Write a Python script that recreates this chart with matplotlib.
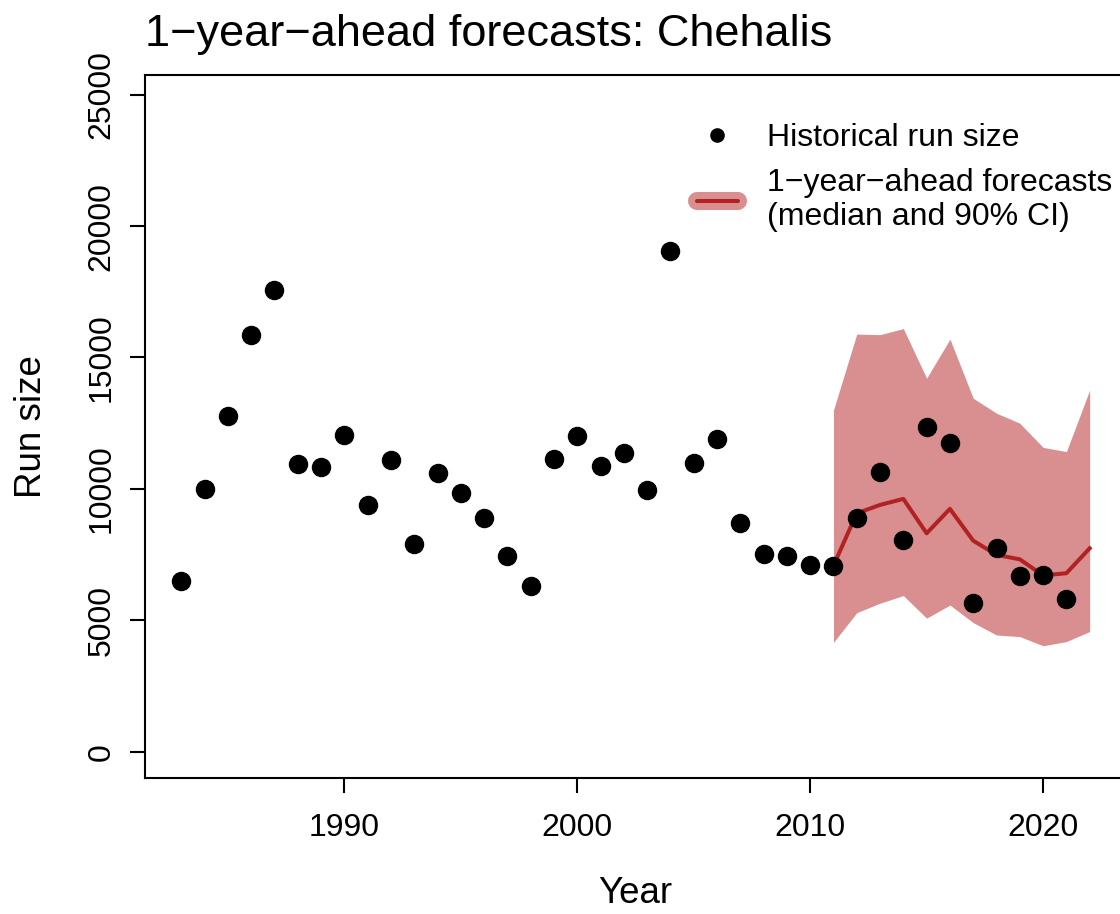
#!/usr/bin/env python3
"""1-year-ahead forecasts for the Chehalis run, with the historical run sizes."""
import matplotlib
matplotlib.use("Agg")
import matplotlib.pyplot as plt
from matplotlib.lines import Line2D

plt.rcParams["font.family"] = ["Liberation Sans", "DejaVu Sans"]

# historical run size, 1983-2021
years = list(range(1983, 2022))
run_size = [6500, 10000, 12770, 15850, 17570, 10930, 10820, 12050, 9390, 11100,
            7900, 10590, 9860, 8900, 7460, 6320, 11140, 12010, 10880, 11380,
            9960, 19050, 11000, 11890, 8710, 7520, 7450, 7090, 7080, 8900,
            10630, 8060, 12370, 11740, 5650, 7760, 6690, 6710, 5810]

# 1-year-ahead forecasts, 2011-2022
fc_years = list(range(2011, 2023))
fc_median = [7080, 9070, 9390, 9620, 8310, 9240, 8030, 7490, 7320, 6710, 6790, 7740]
fc_lower = [4160, 5290, 5650, 5940, 5080, 5580, 4910, 4440, 4380, 4030, 4190, 4570]
fc_upper = [13000, 15890, 15870, 16100, 14210, 15700, 13450, 12880, 12500, 11580, 11420, 13760]

FILL = "#D98F8F"
LINE = "#B22222"

W, H = 1120, 914
fig = plt.figure(figsize=(W / 100, H / 100), dpi=100)
ax = fig.add_axes([145 / W, 1 - 777.7 / H, 981 / W, 702.7 / H])

ax.fill_between(fc_years, fc_lower, fc_upper, color=FILL, linewidth=0, zorder=1)
ax.plot(fc_years, fc_median, color=LINE, linewidth=2.9, zorder=2)
ax.plot(years, run_size, "o", color="black", markersize=13, zorder=3)

ax.set_xlim(1981.44, 2023.56)
ax.set_ylim(-990, 25750)
ax.set_xticks([1990, 2000, 2010, 2020])
ax.set_yticks([0, 5000, 10000, 15000, 20000, 25000])

for side in ("left", "bottom", "top"):
    ax.spines[side].set_linewidth(1.5)
ax.spines["right"].set_visible(False)
ax.tick_params(axis="both", length=10.5, width=1.5, labelsize=23)
ax.tick_params(axis="x", pad=15)
ax.tick_params(axis="y", pad=10)
for lab in ax.get_yticklabels():
    lab.set_rotation(90)
    lab.set_va("center")

ax.set_xlabel("Year", fontsize=26.5, labelpad=24)
ax.set_ylabel("Run size", fontsize=26.5, labelpad=27)
ax.set_title("1\u2212year\u2212ahead forecasts: Chehalis", loc="left",
             fontsize=32.5, pad=21)

# legend
dot = Line2D([], [], marker="o", linestyle="none", color="black", markersize=9.5)
band = Line2D([], [], color=FILL, linewidth=13, solid_capstyle="round")
med = Line2D([], [], color=LINE, linewidth=2.9, solid_capstyle="round")
leg = ax.legend([dot, (band, med)],
                ["Historical run size",
                 "1\u2212year\u2212ahead forecasts\n(median and 90% CI)"],
                loc="upper left", bbox_to_anchor=(697 / W, 1 - 123 / H),
                bbox_transform=fig.transFigure, frameon=False, fontsize=23,
                handlelength=1.28, handletextpad=0.9, labelspacing=0.48,
                borderpad=0, borderaxespad=0)
for t in leg.get_texts():
    t.set_linespacing(1.17)

fig.savefig("out.png", dpi=100)
